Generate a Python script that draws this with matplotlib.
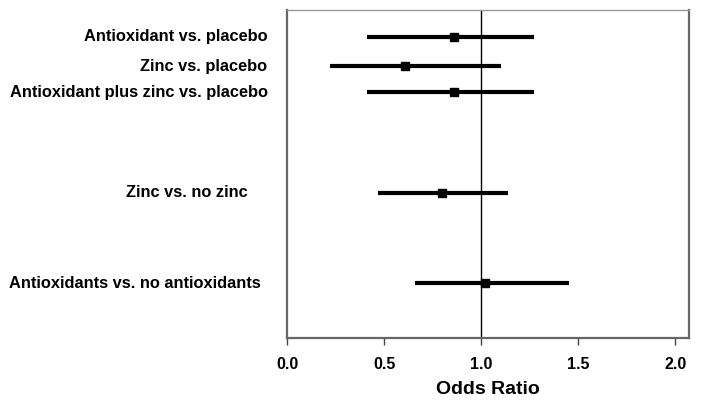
import numpy as np
import matplotlib.pyplot as plt

plt.rcParams['font.family'] = ['Liberation Sans', 'DejaVu Sans']

# odds ratios with confidence limits
labels = ['Antioxidant vs. placebo',
          'Zinc vs. placebo',
          'Antioxidant plus zinc vs. placebo',
          'Zinc vs. no zinc',
          'Antioxidants vs. no antioxidants']
odds = [0.86, 0.61, 0.86, 0.80, 1.02]
lower = [0.41, 0.22, 0.41, 0.47, 0.66]
upper = [1.27, 1.10, 1.27, 1.14, 1.45]
rows = [1.07, 2.1, 3.03, 6.57, 9.77]
xticks = [0.0, 0.5, 1.0, 1.5, 2.0]

fig = plt.figure(figsize=(7.04, 4.04), dpi=100)
ax = fig.add_axes([0.4077, 0.1634, 0.571, 0.8118])

odds = np.array(odds)
err = [odds - np.array(lower), np.array(upper) - odds]
ax.errorbar(odds, rows, xerr=err, fmt='s', color='black', ms=5.5,
            elinewidth=3.0, capsize=0, zorder=3)
ax.axvline(1.0, color='black', lw=1, zorder=2)

ax.set_xlim(0, 2.07)
ax.set_ylim(11.7, 0.12)
ax.set_xticks(xticks)
ax.set_xticklabels(['%.1f' % t for t in xticks], fontsize=11.5, fontweight='bold')
ax.tick_params(axis='x', length=5, width=1, pad=9, color='#444')
ax.set_yticks([])
ax.set_xlabel('Odds Ratio', fontsize=14, fontweight='bold', labelpad=6)

# row labels sit left of the axes, right aligned
offsets = [14, 14, 14, 28, 19]
for lab, y, off in zip(labels, rows, offsets):
    ax.annotate(lab, xy=(0, y), xycoords=('axes fraction', 'data'),
                xytext=(-off, 0), textcoords='offset points',
                ha='right', va='center', fontsize=11.8, fontweight='bold')

for s in ['left', 'bottom', 'right']:
    ax.spines[s].set_color('#666')
    ax.spines[s].set_linewidth(1.6)
ax.spines['top'].set_color('#999')
ax.spines['top'].set_linewidth(1)

plt.savefig('out.png', dpi=100)
